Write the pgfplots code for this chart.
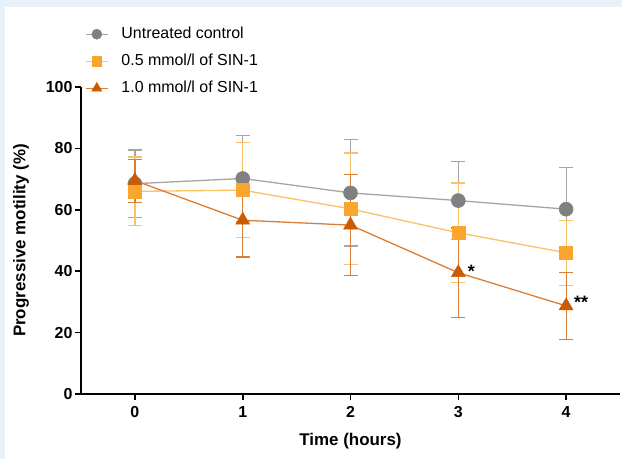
\documentclass[border=0pt]{standalone}
\usepackage{fontspec}
\setmainfont{Liberation Sans}
\usepackage{pgfplots}
\pgfplotsset{compat=1.18}
\definecolor{bgblue}{RGB}{232,240,250}
\definecolor{ctrlmark}{RGB}{128,128,128}
\definecolor{ctrlline}{RGB}{165,165,165}
\definecolor{lomark}{RGB}{250,165,45}
\definecolor{loline}{RGB}{252,192,105}
\definecolor{himark}{RGB}{204,90,0}
\definecolor{hiline}{RGB}{218,125,55}
\begin{document}
\begin{tikzpicture}[x=1bp,y=1bp]
\fill[bgblue] (-81,-65) rectangle (541,394);
\fill[white] (-76,-65) rectangle (541,387);
\useasboundingbox (-81,-65) rectangle (541,394);
\begin{axis}[
  at={(0,0)}, anchor=south west,
  scale only axis, width=539bp, height=307bp,
  xmin=-0.5, xmax=4.5, ymin=0, ymax=100,
  axis x line=bottom, axis y line=left,
  axis line style={line width=1.6bp, -, black},
  xtick={0,1,2,3,4}, ytick={0,20,40,60,80,100},
  tick align=outside, major tick length=6bp,
  tick style={line width=1.6bp, black},
  ticklabel style={font=\fontsize{16}{19}\selectfont\bfseries},
  /pgf/number format/assume math mode=true,
  xticklabel style={yshift=-3bp},
  yticklabel style={xshift=1bp},
  xlabel={Time (hours)}, ylabel={Progressive motility (\%)},
  label style={font=\fontsize{17}{20}\selectfont\bfseries},
  xlabel style={yshift=-9bp},
  ylabel style={yshift=10bp},
  clip=false,
  legend style={at={(axis description cs:0.0074,1.197)}, anchor=north west,
    draw=none, fill=none, inner sep=0pt, row sep=12bp,
    font=\fontsize{16}{19}\selectfont,
    nodes={inner sep=0pt, text height=12bp, text depth=3bp},
    /tikz/every odd column/.style={column sep=13bp}},
  legend cell align=left,
  legend image code/.code={\draw[mark repeat=2,mark phase=2,/tikz/every mark/.append style={scale=0.72}] plot coordinates {(0bp,0bp) (11bp,0bp) (22bp,0bp)};},
  every axis plot/.append style={line width=1.3bp},
]
\addplot+[ctrlline, mark=*, mark size=7bp, mark options={ctrlmark, fill=ctrlmark, draw=ctrlmark, line width=0.5bp},
  error bars/.cd, y dir=both, y explicit,
  error bar style={line width=1.2bp, ctrlline},
  error mark options={rotate=90, mark size=7bp, line width=1.2bp, ctrlline}]
  coordinates {(0,68.5) +- (0,11) (1,70.2) +- (0,14) (2,65.5) +- (0,17.3) (3,63) +- (0,12.8) (4,60.2) +- (0,13.7)};
\addlegendentry{Untreated control}
\addplot+[loline, mark=square*, mark size=6.5bp, mark options={lomark, fill=lomark, draw=lomark, line width=0.5bp},
  error bars/.cd, y dir=both, y explicit,
  error bar style={line width=1.2bp, loline},
  error mark options={rotate=90, mark size=7bp, line width=1.2bp, loline}]
  coordinates {(0,66) +- (0,11.2) (1,66.4) +- (0,15.5) (2,60.3) +- (0,18.2) (3,52.5) +- (0,16.2) (4,46) +- (0,10.6)};
\addlegendentry{0.5 mmol/l of SIN-1}
\addplot+[hiline, mark=triangle*, mark size=8bp, mark options={himark, fill=himark, draw=himark, line width=0.5bp},
  error bars/.cd, y dir=both, y explicit,
  error bar style={line width=1.2bp, hiline},
  error mark options={rotate=90, mark size=7bp, line width=1.2bp, hiline}]
  coordinates {(0,69.5) +- (0,7) (1,56.6) +- (0,12) (2,55) +- (0,16.5) (3,39.5) +- (0,14.6) (4,28.7) +- (0,11)};
\addlegendentry{1.0 mmol/l of SIN-1}
\node[font=\fontsize{18}{20}\selectfont\bfseries] at (axis cs:3.12,40) {*};
\node[font=\fontsize{18}{20}\selectfont\bfseries] at (axis cs:4.14,30) {**};
\end{axis}
\end{tikzpicture}
\end{document}
